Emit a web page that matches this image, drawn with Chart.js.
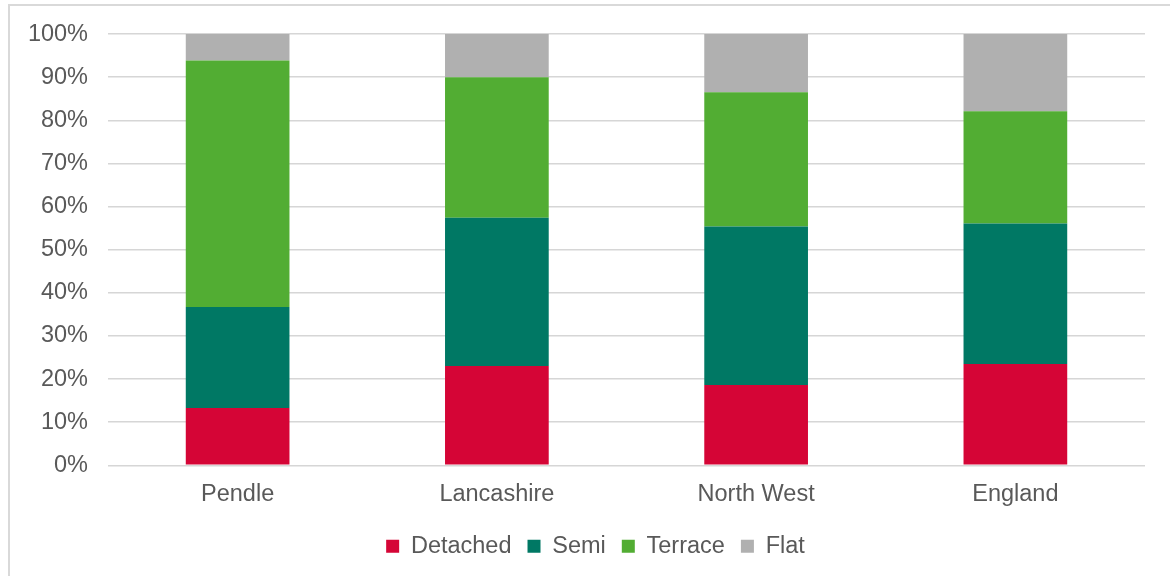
<!DOCTYPE html>
<html>
<head>
<meta charset="utf-8">
<script src="https://cdn.jsdelivr.net/npm/chart.js@4/dist/chart.umd.min.js"></script>
<style>
  html, body { margin: 0; padding: 0; background: #fff; }
  #wrap { position: relative; width: 1170px; height: 576px; overflow: hidden; }
  #frame { position: absolute; left: 8px; top: 4px; width: 1180px; height: 600px; border: 2px solid #d9d9d9; box-sizing: border-box; }
  #c { position: absolute; left: 0; top: 0; }
</style>
</head>
<body>
<div id="wrap">
  <div id="frame"></div>
  <canvas id="c" width="1170" height="576"></canvas>
</div>
<script>
// Housing stock by dwelling type (% of dwellings)
const areas = ['Pendle', 'Lancashire', 'North West', 'England'];
const detached = [13.3, 23.0, 18.6, 23.5];
const semi     = [23.4, 34.4, 36.8, 32.6];
const terrace  = [57.2, 32.6, 31.1, 26.0];
const flat     = [6.1, 10.0, 13.5, 17.9];
const yTicks = [0, 10, 20, 30, 40, 50, 60, 70, 80, 90, 100];

const FONT = "'Liberation Sans', Arial, sans-serif";
const TEXT = '#595959';
const SIZE = 23.5;

function series(label, data, color) {
  return { label, data, backgroundColor: color, borderWidth: 0,
           barPercentage: 0.4, categoryPercentage: 1.0 };
}

// Centre the legend on the outer frame rather than on the canvas
const legendShift = {
  id: 'legendShift',
  beforeDraw(chart) {
    const lg = chart.legend;
    if (lg) { lg.left = 46; lg.right = chart.width - 25; }
  }
};

new Chart(document.getElementById('c'), {
  type: 'bar',
  data: {
    labels: areas,
    datasets: [
      series('Detached', detached, '#d50536'),
      series('Semi', semi, '#007864'),
      series('Terrace', terrace, '#52ad33'),
      series('Flat', flat, '#b0b0b0')
    ]
  },
  plugins: [legendShift],
  options: {
    responsive: false,
    animation: false,
    layout: { padding: { left: 0, right: 25, top: 26, bottom: 8 } },
    scales: {
      x: {
        stacked: true,
        afterFit: axis => { axis.height += 3; },
        grid: { display: false },
        border: { display: false },
        ticks: { color: TEXT, font: { family: FONT, size: SIZE }, padding: 7 }
      },
      y: {
        stacked: true,
        min: 0, max: 100,
        afterBuildTicks: axis => { axis.ticks = yTicks.map(v => ({ value: v })); },
        afterFit: axis => { axis.width = 108; },
        grid: { color: '#d6d6d6', lineWidth: 1.6, drawTicks: false },
        border: { display: false },
        ticks: { color: TEXT, font: { family: FONT, size: SIZE }, padding: 20,
                 callback: v => v + '%' }
      }
    },
    plugins: {
      legend: {
        position: 'bottom',
        labels: { color: TEXT, font: { family: FONT, size: SIZE },
                  boxWidth: 13, boxHeight: 13, padding: 16 }
      },
      tooltip: { enabled: false }
    }
  }
});
</script>
</body>
</html>
